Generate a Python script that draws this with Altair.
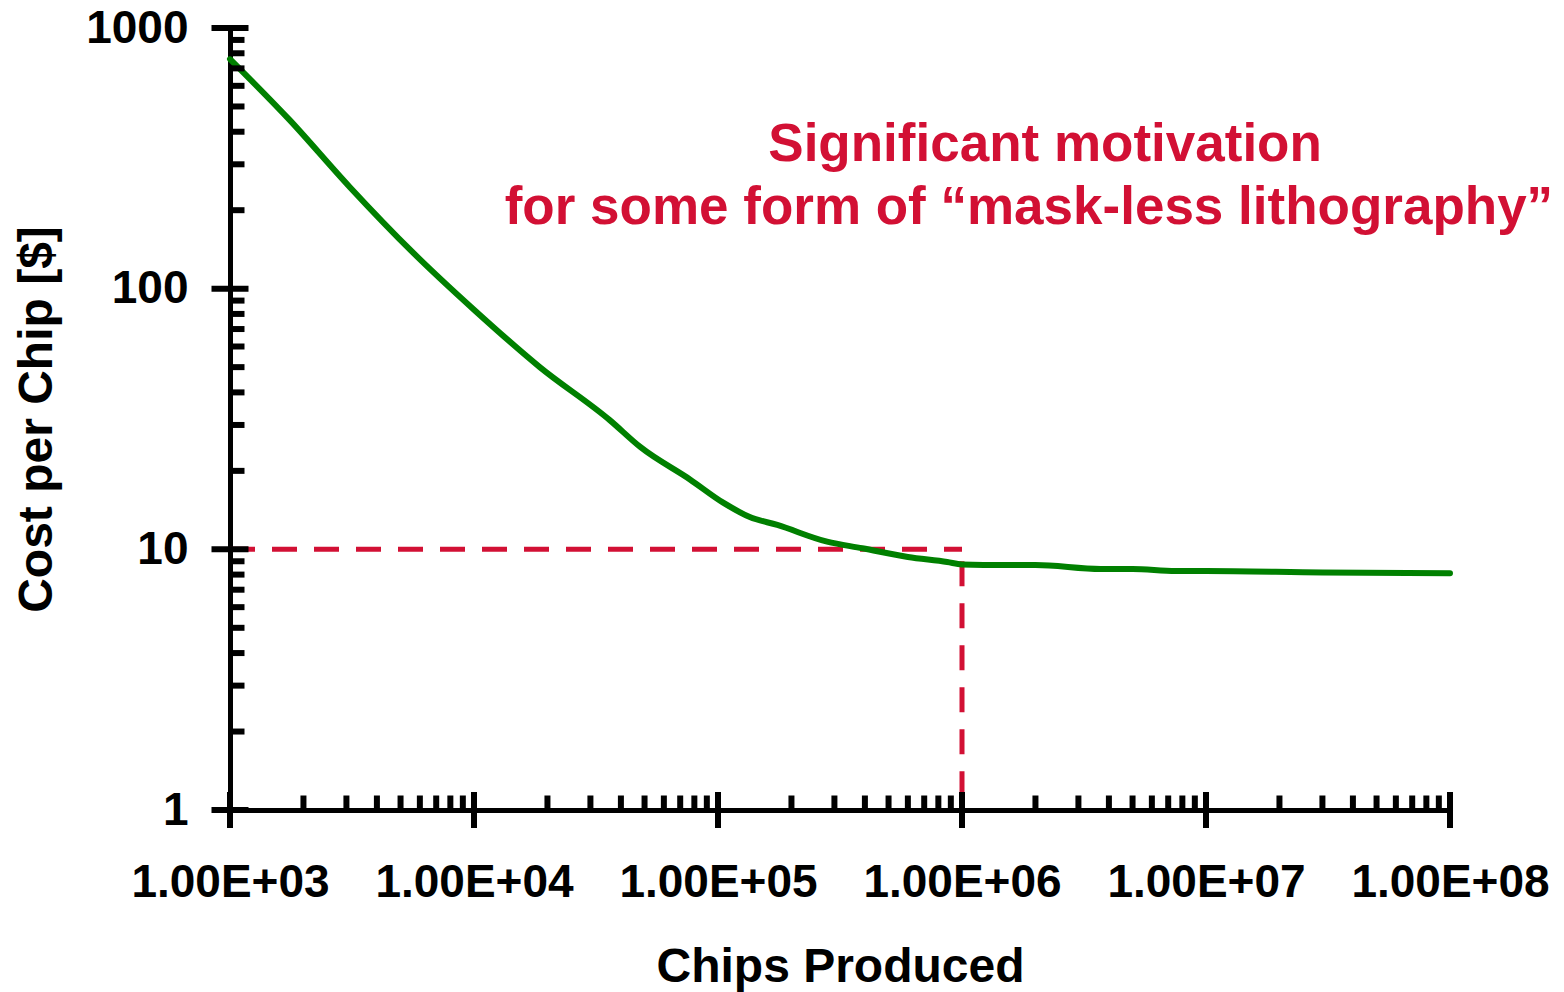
import altair as alt
import pandas as pd

# Cost per chip versus production volume (log-log)
chips = [1e3, 1.75e3, 3.1e3, 5.6e3, 1e4, 1.86e4, 3.6e4, 4.8e4, 7.7e4, 1.05e5,
         1.35e5, 1.75e5, 2.8e5, 3.9e5, 6.0e5, 8.7e5, 1e6, 1.5e6, 2e6, 3.7e6,
         5e6, 7.5e6, 1e7, 3e7, 1e8]
cost = [760, 445, 245, 138, 83, 50, 31.3, 24.7, 18.5, 15.1,
        13.3, 12.4, 10.7, 10.1, 9.35, 8.94, 8.75, 8.7, 8.7, 8.4,
        8.4, 8.25, 8.25, 8.15, 8.1]

# Reference threshold: $10 per chip reached at about one million chips
threshold_chips = 1e6
threshold_cost = 10

x_tick_values = [1e3, 1e4, 1e5, 1e6, 1e7, 1e8]
x_tick_labels = ["1.00E+03", "1.00E+04", "1.00E+05", "1.00E+06", "1.00E+07", "1.00E+08"]
y_tick_values = [1, 10, 100, 1000]
y_tick_labels = ["1", "10", "100", "1000"]

note_lines = ["Significant motivation", "for some form of \u201cmask-less lithography\u201d"]
note_chips = [2.19e6, 1.88e6]
note_cost = [356, 204]

FONT = "Liberation Sans"
GREEN = "#008000"
CRIMSON = "#D21034"

x_minor = [m * d for d in x_tick_values[:-1] for m in range(2, 10)]
y_minor = [m * d for d in y_tick_values[:-1] for m in range(2, 10)]

xscale = alt.Scale(type="log", domain=[1e3, 1e8], nice=False)
yscale = alt.Scale(type="log", domain=[1, 1000], nice=False)


def label_expr(values, labels):
    parts = [f"datum.value == {int(v)} ? '{l}'" for v, l in zip(values, labels)]
    return " : ".join(parts) + " : ''"


x_axis = alt.Axis(title="Chips Produced", values=x_tick_values,
                  labelExpr=label_expr(x_tick_values, x_tick_labels),
                  labelPadding=50, titlePadding=38)
y_axis = alt.Axis(title="Cost per Chip [$]", values=y_tick_values,
                  labelExpr=label_expr(y_tick_values, y_tick_labels),
                  labelPadding=42, titlePadding=24)

X = dict(field="chips", type="quantitative", scale=xscale, axis=x_axis)
Y = dict(field="cost", type="quantitative", scale=yscale, axis=y_axis)

curve = pd.DataFrame({"chips": chips, "cost": cost})

line = alt.Chart(curve).mark_line(
    color=GREEN, strokeWidth=6, strokeCap="round", interpolate="monotone"
).encode(x=alt.X(**X), y=alt.Y(**Y))

h_dash = alt.Chart(pd.DataFrame({
    "chips": [x_tick_values[0]], "chips2": [threshold_chips], "cost": [threshold_cost]
})).mark_rule(color=CRIMSON, strokeWidth=5, strokeDash=[25, 17]).encode(
    x=alt.X(**X), x2="chips2:Q", y=alt.Y(**Y),
)

v_dash = alt.Chart(pd.DataFrame({
    "chips": [threshold_chips], "cost": [threshold_cost], "cost2": [y_tick_values[0]]
})).mark_rule(color=CRIMSON, strokeWidth=5, strokeDash=[25, 17], strokeDashOffset=30).encode(
    x=alt.X(**X), y=alt.Y(**Y), y2="cost2:Q",
)

# Axis tick marks: major ticks cross the axis line, minor ticks point inward
x_major_df = pd.DataFrame({"chips": x_tick_values, "cost": [1] * len(x_tick_values)})
x_minor_df = pd.DataFrame({"chips": x_minor, "cost": [1] * len(x_minor)})
y_major_df = pd.DataFrame({"chips": [1e3] * len(y_tick_values), "cost": y_tick_values})
y_minor_df = pd.DataFrame({"chips": [1e3] * len(y_minor), "cost": y_minor})


def ticks(df, **mark):
    return alt.Chart(df).mark_tick(
        color="black", opacity=1, thickness=6, **mark
    ).encode(x=alt.X(**X), y=alt.Y(**Y))


x_major = ticks(x_major_df, orient="vertical", size=36)
x_minor_t = ticks(x_minor_df, orient="vertical", size=15, yOffset=-7)
y_major = ticks(y_major_df, orient="horizontal", size=37)
y_minor_t = ticks(y_minor_df, orient="horizontal", size=15, xOffset=7)

note = alt.Chart(pd.DataFrame({
    "text": note_lines, "chips": note_chips, "cost": note_cost
})).mark_text(font=FONT, fontSize=53, fontWeight="bold", color=CRIMSON,
              align="center", baseline="middle").encode(
    x=alt.X(**X), y=alt.Y(**Y), text="text:N",
)

chart = alt.layer(
    h_dash, v_dash, line, x_minor_t, y_minor_t, x_major, y_major, note
).properties(
    width=1220,
    height=782,
    autosize=alt.AutoSizeParams(type="none"),
    padding={"left": 230, "top": 28, "right": 114, "bottom": 182},
).configure_view(
    strokeWidth=0
).configure_axis(
    grid=False,
    ticks=False,
    domainColor="black",
    domainWidth=5,
    domainCap="round",
    labelFont=FONT,
    labelFontSize=46,
    labelFontWeight="bold",
    labelColor="black",
    labelLimit=0,
    labelFlush=False,
    labelOverlap=False,
    labelBound=False,
    titleFont=FONT,
    titleFontSize=48,
    titleFontWeight="bold",
    titleColor="black",
)

chart.save("out.html", embed_options={"renderer": "svg", "actions": False})
